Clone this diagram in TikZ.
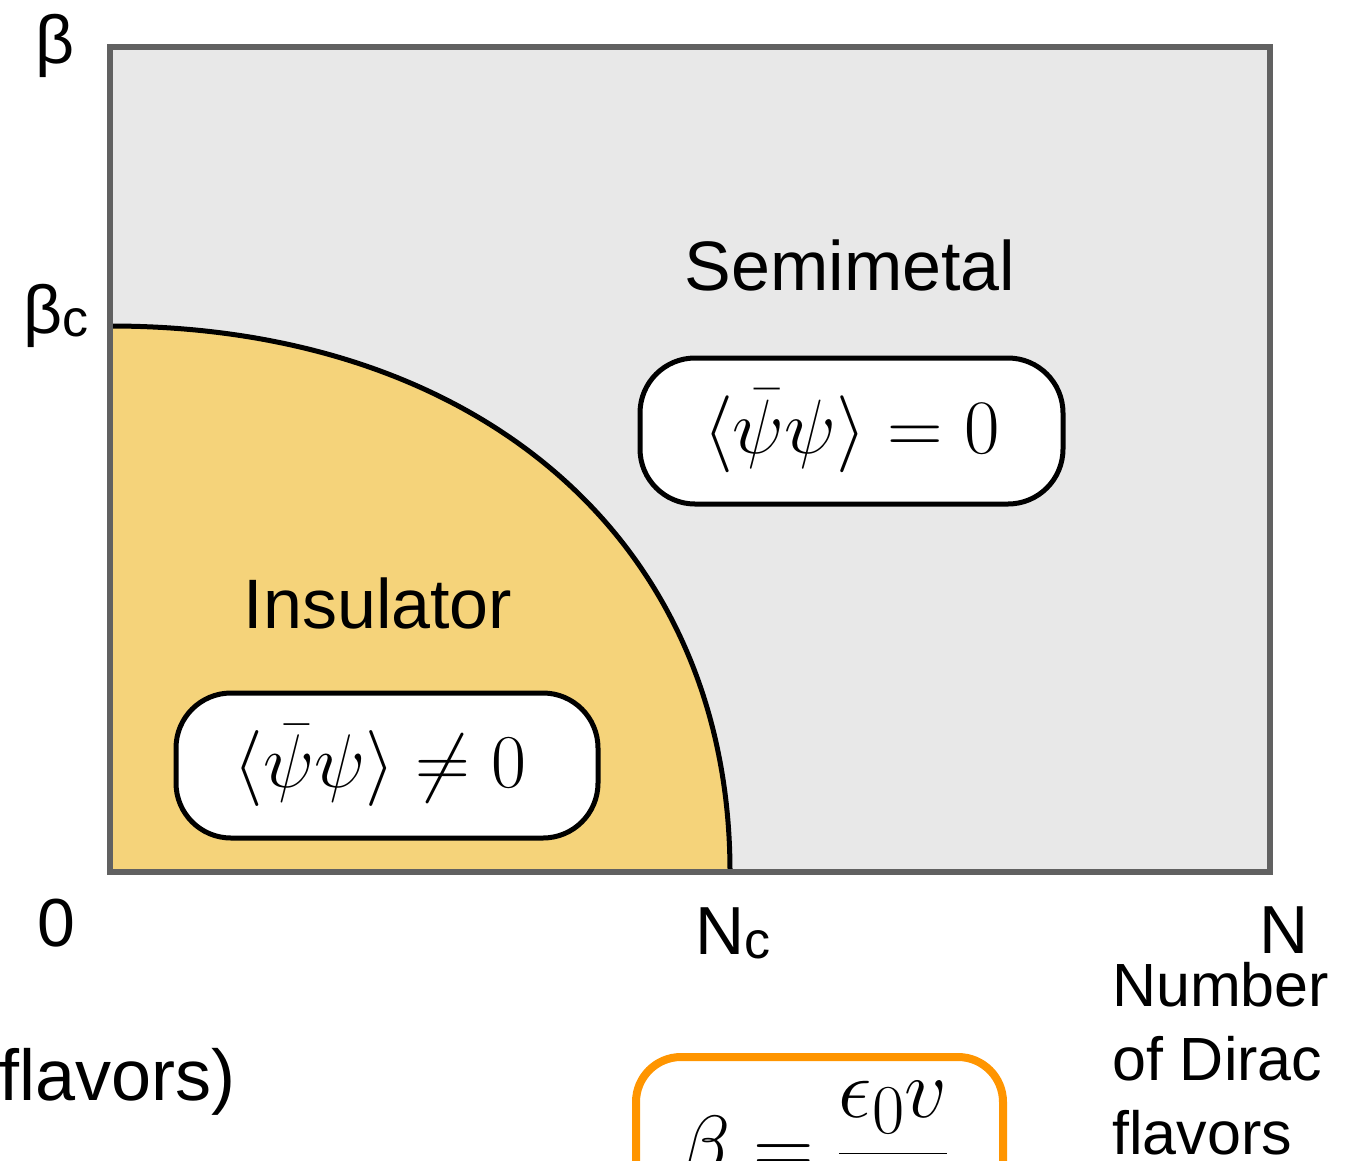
\RequirePackage{fix-cm}
\documentclass[tikz,border=0pt]{standalone}
\usepackage[no-math]{fontspec}
\setmainfont{Liberation Sans}
\definecolor{bggray}{HTML}{E8E8E8}
\definecolor{framegray}{HTML}{616161}
\definecolor{insyellow}{HTML}{F5D37A}
\definecolor{boxorange}{HTML}{FF9500}
\newcommand{\fsz}[1]{\fontsize{#1}{#1}\selectfont}
\tikzset{
  statebox/.style={draw=black, line width=5pt, fill=white, rounded corners=55pt,
    inner sep=0pt, minimum width=423pt, minimum height=146pt, font=\fsz{77}},
  phaselabel/.style={inner sep=0pt, anchor=base, font=\fsz{70}},
  axislabel/.style={inner sep=0pt, font=\fsz{68}},
  sidetext/.style={inner sep=0pt, anchor=base west, font=\fsz{61}},
}
\begin{document}
\begin{tikzpicture}[x=1pt,y=-1pt]
\useasboundingbox (0,0) rectangle (1348,1160);
\clip (0,0) rectangle (1348,1160);
% background plane
\fill[bggray] (110,47) rectangle (1270,872);
% insulator region
\fill[insyellow] (110,326) .. controls (482,326) and (730,544) .. (730,872) -- (110,872) -- cycle;
\draw[black, line width=5pt] (110,326) .. controls (482,326) and (730,544) .. (730,872);
% frame
\draw[framegray, line width=6pt] (110,47) rectangle (1270,872);
% phase names
\node[phaselabel] (semi) at (850,290) {Semimetal};
\node[phaselabel] (insu) at (378,628) {Insulator};
% order-parameter boxes
\node[statebox] (semibox) at (851.5,431) {$\langle\bar\psi\psi\rangle = 0$};
\node[statebox, minimum width=422pt, minimum height=145pt, font=\fsz{76}] (insubox) at (387,765.5)
  {\hspace{-14pt}$\langle\bar\psi\psi\rangle \neq 0$};
% axis labels
\node[axislabel, anchor=base] (beta) at (55,63) {β};
\node[axislabel, anchor=base west] (betac) at (23,333) {β\raisebox{-3pt}{\fsz{52}c}};
\node[axislabel, anchor=base] (zero) at (56,946) {0};
\node[axislabel, anchor=base west] (Nc) at (695,954) {N\raisebox{-4pt}{\fsz{52}c}};
\node[axislabel, anchor=base] (N) at (1284,953) {N};
% side texts
\node[sidetext] (num1) at (1112,1006) {Number};
\node[sidetext] (num2) at (1112,1080) {of Dirac};
\node[sidetext] (num3) at (1112,1154) {flavors};
\node[inner sep=0pt, anchor=base east, font=\fsz{72}] (flav) at (236,1100) {flavors)};
% orange formula box (cut off by the page edge)
\node[draw=boxorange, line width=8pt, rounded corners=45pt, inner sep=0pt,
  minimum width=367pt, minimum height=234pt] (formula) at (819.5,1174) {};
\node[inner sep=0pt, anchor=base, font=\fsz{84}] (formtext) at (814,1174)
  {$\beta = {\displaystyle\frac{\epsilon_{\mbox{\fsz{70}$0$}}v}{\phantom{\epsilon_{0}v}}}$};
\end{tikzpicture}
\end{document}
